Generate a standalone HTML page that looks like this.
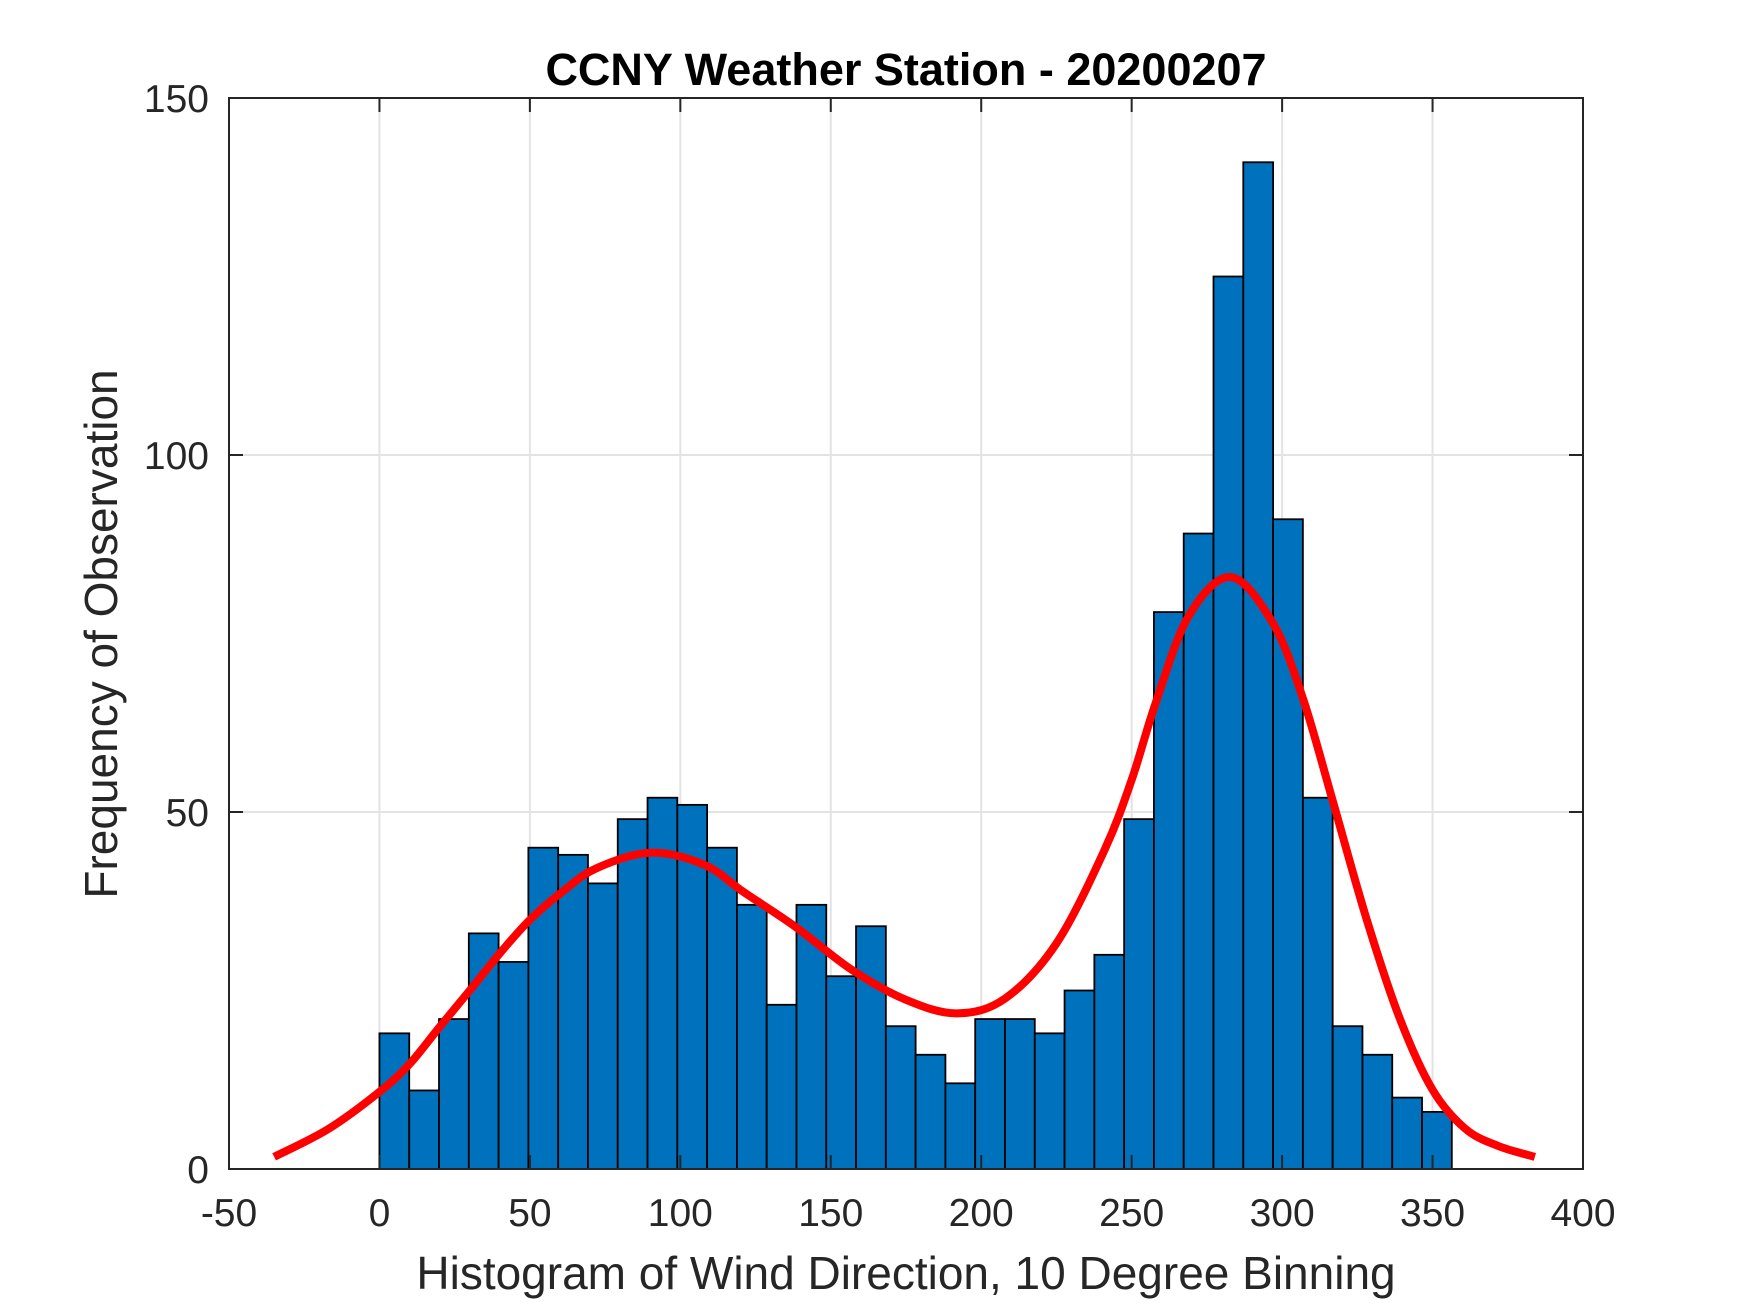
<!DOCTYPE html>
<html><head><meta charset="utf-8"><style>
html,body{margin:0;padding:0;background:#fff;}
svg{display:block;font-family:"Liberation Sans",Arial,sans-serif;}
</style></head><body>
<svg id="chart" width="1750" height="1313" viewBox="0 0 1750 1313" xmlns="http://www.w3.org/2000/svg">
<rect x="0" y="0" width="1750" height="1313" fill="#fff"/>
<g id="grid"></g>
<g id="bars"></g>
<g id="fit"></g>
<g id="axes"></g>
<text x="906" y="85" text-anchor="middle" font-weight="bold" font-size="45" fill="#000">CCNY Weather Station - 20200207</text>
<text x="906" y="1289" text-anchor="middle" font-size="46" fill="#262626">Histogram of Wind Direction, 10 Degree Binning</text>
<text x="0" y="0" transform="translate(117,634) rotate(-90)" text-anchor="middle" font-size="46" fill="#262626">Frequency of Observation</text>
</svg>
<script>
const binStart = 0;
const binEnd = 356.4;
const binCounts = [19,11,21,33,29,45,44,40,49,52,51,45,37,23,37,27,34,20,16,12,21,21,19,25,30,49,78,89,125,141,91,52,20,16,10,8];
const fitX = [-35,-17,0,10,20,30,40,50,61,72,90,108,121,138,157,175,192,208,225,241,250,258,269,283,297,307,317,328,339,350,361,372,384];
const fitY = [1.7,5.6,10.8,14.7,19.9,25,30.2,34.9,38.9,42.1,44.3,42.6,38.8,34,27.9,23.7,21.8,23.9,31.6,44.7,54.5,65.3,77.5,82.9,76.4,65.8,51.3,35.1,21.2,11.1,5.6,3.2,1.7];
const xTicks = [-50,0,50,100,150,200,250,300,350,400];
const yTicks = [0,50,100,150];

const L=229,R=1583,T=98,B=1169;
const xMin=-50,xMax=400,yMin=0,yMax=150;
function xs(v){return L+(v-xMin)/(xMax-xMin)*(R-L);}
function ys(v){return B-(v-yMin)/(yMax-yMin)*(B-T);}
const NS="http://www.w3.org/2000/svg";
function mk(tag,attrs,parent){const e=document.createElementNS(NS,tag);for(const k in attrs)e.setAttribute(k,attrs[k]);parent.appendChild(e);return e;}
const grid=document.getElementById('grid'),bars=document.getElementById('bars'),fit=document.getElementById('fit'),axes=document.getElementById('axes');

xTicks.forEach(t=>{
  const g=mk('line',{x1:xs(t),x2:xs(t),y1:T,y2:B,stroke:'#e3e3e3','stroke-width':2},grid);
  
  
});
yTicks.forEach(t=>{
  const g=mk('line',{x1:L,x2:R,y1:ys(t),y2:ys(t),stroke:'#e3e3e3','stroke-width':2},grid);
  
  
});

const bw=(binEnd-binStart)/binCounts.length;
binCounts.forEach((c,i)=>{
  const x0=xs(binStart+i*bw),x1=xs(binStart+(i+1)*bw);
  const r=mk('rect',{x:x0,y:ys(c),width:x1-x0,height:ys(0)-ys(c),fill:'#0072BD',stroke:'#000','stroke-width':1.8},bars);
  
  
});

const pts=fitX.map((x,i)=>[xs(x),ys(fitY[i])]);
let d='M'+pts[0][0]+','+pts[0][1];
for(let i=0;i<pts.length-1;i++){
  const p0=pts[Math.max(0,i-1)],p1=pts[i],p2=pts[i+1],p3=pts[Math.min(pts.length-1,i+2)];
  const c1=[p1[0]+(p2[0]-p0[0])/6,p1[1]+(p2[1]-p0[1])/6];
  const c2=[p2[0]-(p3[0]-p1[0])/6,p2[1]-(p3[1]-p1[1])/6];
  d+=' C'+c1[0]+','+c1[1]+' '+c2[0]+','+c2[1]+' '+p2[0]+','+p2[1];
}
const fc=mk('path',{d:d,fill:'none',stroke:'#ff0000','stroke-width':8,'stroke-linejoin':'round'},fit);



const box=mk('rect',{x:L,y:T,width:R-L,height:B-T,fill:'none',stroke:'#262626','stroke-width':2},axes);


const tl=14;
xTicks.forEach(t=>{
  const x=xs(t);
  const a=mk('line',{x1:x,x2:x,y1:B,y2:B-tl,stroke:'#262626','stroke-width':2},axes);
  
  
  const b=mk('line',{x1:x,x2:x,y1:T,y2:T+tl,stroke:'#262626','stroke-width':2},axes);
  
  
  const lb=mk('text',{x:x,y:1226,'text-anchor':'middle','font-size':39,fill:'#262626'},axes);
  lb.textContent=String(t);
  
  
});
yTicks.forEach(t=>{
  const y=ys(t);
  const a=mk('line',{x1:L,x2:L+tl,y1:y,y2:y,stroke:'#262626','stroke-width':2},axes);
  
  
  const b=mk('line',{x1:R,x2:R-tl,y1:y,y2:y,stroke:'#262626','stroke-width':2},axes);
  
  
  const lb=mk('text',{x:209,y:y+14,'text-anchor':'end','font-size':39,fill:'#262626'},axes);
  lb.textContent=String(t);
  
  
});
</script>
</body></html>
